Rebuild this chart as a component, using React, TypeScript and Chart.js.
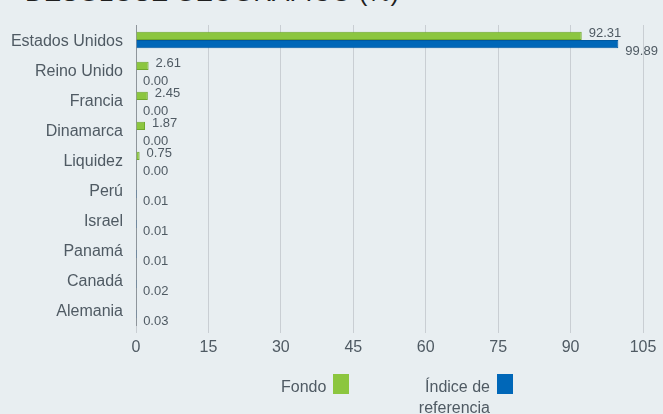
import React, { useEffect, useRef } from "react";
import { Chart, registerables } from "chart.js";

Chart.register(...registerables);

const categories = ["Estados Unidos", "Reino Unido", "Francia", "Dinamarca", "Liquidez", "Perú", "Israel", "Panamá", "Canadá", "Alemania"];
const fondoValues = [92.31, 2.61, 2.45, 1.87, 0.75, 0, 0, 0, 0, 0];
const indiceValues = [99.89, 0.0, 0.0, 0.0, 0.0, 0.01, 0.01, 0.01, 0.02, 0.03];
const fondoLabels = ["92.31", "2.61", "2.45", "1.87", "0.75", "", "", "", "", ""];
const indiceLabels = ["99.89", "0.00", "0.00", "0.00", "0.00", "0.01", "0.01", "0.01", "0.02", "0.03"];
const xTicks = [0, 15, 30, 45, 60, 75, 90, 105];

const GREEN = "#8cc63f";
const BLUE = "#0067b8";
const TEXT = "#4f5a63";
const FONT = "'Liberation Sans', Arial, sans-serif";

const labelPlugin = {
  id: "valueLabels",
  afterDatasetsDraw(chart: any) {
    const ctx = chart.ctx;
    ctx.save();
    ctx.font = `13px ${FONT}`;
    ctx.fillStyle = TEXT;
    ctx.textAlign = "left";
    ctx.textBaseline = "middle";
    const m0 = chart.getDatasetMeta(0);
    const m1 = chart.getDatasetMeta(1);
    m0.data.forEach((bar: any, i: number) => {
      const t = fondoLabels[i];
      if (!t) return;
      ctx.fillText(t, bar.x + 7, bar.y - 2);
    });
    m1.data.forEach((bar: any, i: number) => {
      const t = indiceLabels[i];
      if (!t) return;
      ctx.fillText(t, bar.x + 7, bar.y + 7);
    });
    ctx.restore();
  },
};

export default function App() {
  const ref = useRef<HTMLCanvasElement>(null);
  useEffect(() => {
    document.body.style.margin = "0";
    document.body.style.background = "#e8eef1";
    const chart = new Chart(ref.current!, {
      type: "bar",
      data: {
        labels: categories,
        datasets: [
          {
            label: "Fondo",
            data: fondoValues,
            backgroundColor: GREEN,
            borderColor: "#6fa82c",
            borderWidth: 1,
            barPercentage: 1,
            categoryPercentage: 0.55,
          },
          {
            label: "Índice de referencia",
            data: indiceValues,
            backgroundColor: BLUE,
            borderColor: "#0058a0",
            borderWidth: 1,
            barPercentage: 1,
            categoryPercentage: 0.55,
          },
        ],
      },
      options: {
        indexAxis: "y",
        animation: false,
        responsive: false,
        maintainAspectRatio: false,
        layout: { padding: { top: 25, right: 20, left: 0, bottom: 0 } },
        plugins: { legend: { display: false }, tooltip: { enabled: false } },
        scales: {
          x: {
            min: 0,
            max: 105,
            afterBuildTicks: (scale: any) => {
              scale.ticks = xTicks.map((v) => ({ value: v }));
            },
            afterFit: (scale: any) => {
              scale.height = 89;
            },
            grid: { color: "#c9ced3", lineWidth: 1, tickLength: 8, drawTicks: true },
            border: { display: false },
            ticks: { color: TEXT, font: { size: 16, family: FONT }, padding: 5, maxRotation: 0 },
          },
          y: {
            afterFit: (scale: any) => {
              scale.width = 136;
            },
            grid: { display: false },
            border: { display: true, color: "#8e959b", width: 1 },
            ticks: { color: TEXT, font: { size: 16, family: FONT }, padding: 5, labelOffset: 2 },
          },
        },
      },
      plugins: [labelPlugin],
    });
    return () => chart.destroy();
  }, []);

  return (
    <div style={{ position: "relative", width: 663, height: 414, background: "#e8eef1", overflow: "hidden" }}>
      <div
        style={{
          position: "absolute",
          left: 25,
          top: -24,
          fontFamily: FONT,
          fontSize: 26,
          lineHeight: "32px",
          color: "#1f1f1f",
          whiteSpace: "nowrap",
        }}
      >
        DESGLOSE GEOGRÁFICO (%)
      </div>
      <canvas ref={ref} width={663} height={414} style={{ position: "absolute", left: 0, top: 0 }} />
      <div style={{ position: "absolute", left: 281, top: 376, fontFamily: FONT, fontSize: 16, color: TEXT, lineHeight: "22px" }}>
        Fondo
      </div>
      <div style={{ position: "absolute", left: 333, top: 374, width: 16, height: 20, background: GREEN }} />
      <div
        style={{
          position: "absolute",
          left: 390,
          width: 100,
          top: 376,
          fontFamily: FONT,
          fontSize: 16,
          color: TEXT,
          lineHeight: "21px",
          textAlign: "right",
        }}
      >
        Índice de
        <br />
        referencia
      </div>
      <div style={{ position: "absolute", left: 497, top: 374, width: 16, height: 20, background: BLUE }} />
    </div>
  );
}
